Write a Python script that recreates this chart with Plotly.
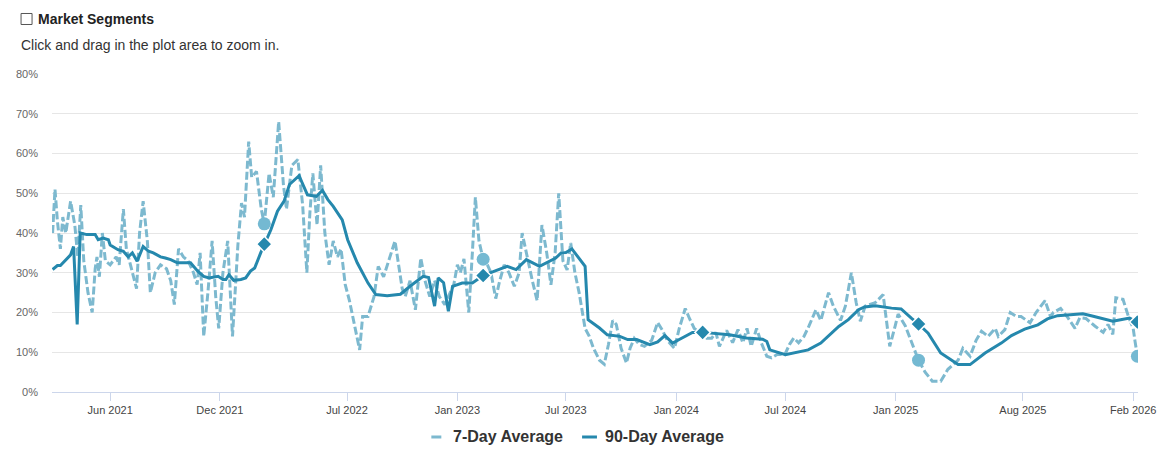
import plotly.graph_objects as go

# ---------------- data ----------------
d7_dates = [
 "2021-02-25","2021-03-01","2021-03-05","2021-03-10","2021-03-14","2021-03-19","2021-03-27","2021-04-03",
 "2021-04-08","2021-04-13","2021-04-18","2021-04-25","2021-05-02","2021-05-07","2021-05-10","2021-05-14",
 "2021-05-19","2021-05-24","2021-06-01","2021-06-11","2021-06-16","2021-06-23","2021-06-28","2021-07-08",
 "2021-07-15","2021-07-20","2021-07-26","2021-08-02","2021-08-07","2021-08-15","2021-08-24","2021-09-03",
 "2021-09-10","2021-09-16","2021-09-23","2021-10-01","2021-10-09","2021-10-18","2021-10-24","2021-10-29",
 "2021-11-04","2021-11-11","2021-11-18","2021-11-24","2021-11-29","2021-12-06","2021-12-14","2021-12-22",
 "2021-12-31","2022-01-06","2022-01-11","2022-01-18","2022-01-23","2022-01-31","2022-02-08","2022-02-13",
 "2022-02-21","2022-02-28","2022-03-09","2022-03-17","2022-03-22","2022-03-31","2022-04-10","2022-04-18",
 "2022-04-25","2022-04-30","2022-05-05","2022-05-12","2022-05-18","2022-05-25","2022-06-01","2022-06-08",
 "2022-06-15","2022-06-21","2022-06-28","2022-07-05","2022-07-12","2022-07-22","2022-07-27","2022-08-05",
 "2022-08-15","2022-08-22","2022-08-31","2022-09-09","2022-09-19","2022-10-01","2022-10-06","2022-10-14",
 "2022-10-23","2022-11-01","2022-11-08","2022-11-16","2022-11-24","2022-12-02","2022-12-11","2022-12-17",
 "2022-12-26","2023-01-01","2023-01-06","2023-01-12","2023-01-20","2023-01-26","2023-01-31","2023-02-06",
 "2023-02-13","2023-02-20","2023-02-26","2023-03-06","2023-03-12","2023-03-20","2023-03-28","2023-04-06",
 "2023-04-14","2023-04-19","2023-04-27","2023-05-06","2023-05-14","2023-05-22","2023-05-30","2023-06-06",
 "2023-06-13","2023-06-19","2023-06-26","2023-07-03","2023-07-09","2023-07-16","2023-07-23","2023-07-28",
 "2023-08-02","2023-08-09","2023-08-16","2023-08-26","2023-09-03","2023-09-10","2023-09-17","2023-09-23",
 "2023-10-01","2023-10-10","2023-10-16","2023-10-23","2023-10-31","2023-11-09","2023-11-21","2023-12-01",
 "2023-12-09","2023-12-17","2023-12-29","2024-01-06","2024-01-16","2024-01-23","2024-01-31","2024-02-09",
 "2024-02-14","2024-02-21","2024-02-29","2024-03-07","2024-03-13","2024-03-25","2024-04-04","2024-04-13",
 "2024-04-21","2024-04-28","2024-05-05","2024-05-14","2024-05-22","2024-05-31","2024-06-08","2024-06-18",
 "2024-06-30","2024-07-08","2024-07-15","2024-07-23","2024-08-01","2024-08-09","2024-08-21","2024-08-29",
 "2024-09-11","2024-09-19","2024-10-01","2024-10-09","2024-10-19","2024-10-27","2024-11-03","2024-11-11",
 "2024-11-28","2024-12-11","2024-12-22","2024-12-31","2025-01-05","2025-01-17","2025-01-30","2025-02-08",
 "2025-02-19","2025-03-03","2025-03-17","2025-03-29","2025-04-15","2025-04-23","2025-05-05","2025-05-15",
 "2025-05-24","2025-06-04","2025-06-16","2025-06-21","2025-07-02","2025-07-11","2025-07-21","2025-07-29",
 "2025-08-13","2025-08-23","2025-09-07","2025-09-16","2025-09-21","2025-10-03","2025-10-15","2025-10-27",
 "2025-11-04","2025-11-14","2025-11-29","2025-12-13","2025-12-21","2025-12-29","2026-01-03","2026-01-15",
 "2026-01-24","2026-02-01","2026-02-04","2026-02-08",
]
d7_values = [
 40,51,43,36,44,40,48,42,
 34,47,33,25,20,31,34,29,
 40,33,32,34,32,46,36,30,
 26,40,48,38,25,30,32,31,
 28,22,36,34,33,30,27,35,
 14,25,38,24,16,30,38,14,
 37,47.5,44,63,54,55.5,46,42.3,
 55,49,68,52,46,57,58.5,47,
 30,45,55,42,57,40,32,38,
 34,36,27,23,18,10.6,19,19,
 24,31.6,29,33,38,26,24,28,
 20.7,33.7,28,24,28,24,22,24,
 27,32,30,33.5,20,35,49,38,
 33.4,32,30,23.5,27.6,32,30,26.6,
 30,40,34,28,23,42,35,27,
 35,50,33,30.7,37.5,30,25,20,
 16,14,11,8,7,12,18,17,
 11,7.3,11,13.5,12,11.5,13,17.5,
 15.5,13,11,16,21,18.5,16,15,
 15,13.5,13.5,15,11.5,15.5,12.4,15.7,
 12.4,16,11.5,16,12.3,9,8.6,9.5,
 9.4,12,13.6,12.4,14,16.5,20.7,18,
 25,21.6,18,21.6,30,22.5,17.8,21.6,
 22.5,24.5,11.5,16.6,19.6,16.6,11.5,8,
 5,2.7,2.7,5.7,8,11,9,13,
 15.3,14,16,14,15.7,20,19,19,
 17.4,20,23,19,20,21,18.7,16,
 18.7,18.5,16.6,15,17,14.5,23.7,23.3,
 19,16,12.8,9,
]

d90_dates = [
 "2021-02-25","2021-03-05","2021-03-10","2021-03-22","2021-03-27","2021-04-01","2021-04-07","2021-04-12",
 "2021-04-23","2021-05-07","2021-05-12","2021-05-20","2021-05-29","2021-06-01","2021-06-14","2021-06-23",
 "2021-07-01","2021-07-08","2021-07-16","2021-07-26","2021-08-04","2021-08-12","2021-08-24","2021-09-01",
 "2021-09-10","2021-09-21","2021-10-13","2021-10-25","2021-11-04","2021-11-13","2021-11-28","2021-12-06",
 "2021-12-11","2021-12-16","2021-12-24","2022-01-05","2022-01-13","2022-01-21","2022-01-28","2022-02-07",
 "2022-02-13","2022-02-24","2022-03-07","2022-03-18","2022-03-27","2022-04-12","2022-04-26","2022-05-11",
 "2022-05-16","2022-05-21","2022-05-30","2022-06-08","2022-06-23","2022-07-02","2022-07-18","2022-07-27",
 "2022-08-05","2022-08-18","2022-09-06","2022-09-28","2022-10-14","2022-11-05","2022-11-14","2022-11-24",
 "2022-11-30","2022-12-09","2022-12-17","2022-12-24","2023-01-09","2023-01-26","2023-02-13","2023-03-04",
 "2023-03-25","2023-04-09","2023-04-26","2023-05-18","2023-06-03","2023-06-14","2023-06-23","2023-07-01",
 "2023-07-11","2023-07-23","2023-08-02","2023-08-07","2023-08-26","2023-09-08","2023-09-29","2023-10-12",
 "2023-10-27","2023-11-18","2023-12-01","2023-12-13","2023-12-26","2024-01-06","2024-01-28","2024-02-14",
 "2024-03-02","2024-03-30","2024-04-27","2024-05-24","2024-05-31","2024-06-05","2024-07-01","2024-07-23",
 "2024-08-08","2024-08-29","2024-09-28","2024-10-14","2024-10-31","2024-11-10","2024-11-28","2024-12-25",
 "2025-01-10","2025-01-27","2025-02-08","2025-02-24","2025-03-17","2025-04-15","2025-05-05","2025-05-30",
 "2025-06-26","2025-07-13","2025-08-04","2025-08-26","2025-09-11","2025-09-28","2025-10-20","2025-11-09",
 "2025-11-23","2025-12-09","2025-12-29","2026-01-11","2026-01-26","2026-02-08",
]
d90_values = [
 30.8,31.8,31.8,33.7,34.5,36.6,17,40,
 39.6,39.6,38.3,38.7,38.3,37,35.8,35.4,
 34,35,32.9,36.6,35.4,35,34,33.7,
 33.3,32.5,32.5,30.4,29.1,28.7,29.1,28.3,
 28.3,29.5,28.1,28.3,28.7,30.4,31.2,35,
 37.2,40.8,45.5,48,52.2,54.4,49.6,49.2,
 50,50.7,48.4,46.7,43.3,38.3,32.5,30,
 27.4,24.5,24.2,24.6,26.6,29.1,28.8,21.6,
 28.7,27.5,20.3,26.6,27.4,27.4,29.3,30.4,
 31.6,30.8,33.3,31.6,32.9,33.7,35,35.1,
 36,33.7,31.6,18.2,16.1,14.4,14,13.2,
 13.2,11.9,12.6,14.2,12.3,13.2,15,15,
 14.8,14.4,13.6,13.3,12.7,10.6,9.4,10,
 10.6,12.3,16.5,18.2,20.7,21.4,21.7,21.1,
 20.9,18.6,17.1,14.8,9.8,6.9,6.9,9.8,
 12.3,14.2,15.8,16.9,18.4,19.2,19.5,19.7,
 19.2,18.6,17.8,18.2,18.6,17.6,
]

# yearly highlighted points
mark_dates = ["2022-02-13", "2023-02-13", "2024-02-14", "2025-02-08", "2026-02-08"]
mark7_dates = ["2022-02-13", "2023-02-13", "2025-02-08", "2026-02-08"]
mark7_values = [42.3, 33.4, 8, 9]
mark90_values = [37.2, 29.3, 15, 17.1, 17.6]

tick_vals = ["2021-06-01", "2021-12-01", "2022-07-01", "2023-01-01", "2023-07-01",
             "2024-01-01", "2024-07-01", "2025-01-01", "2025-08-01", "2026-02-01"]
tick_text = ["Jun 2021", "Dec 2021", "Jul 2022", "Jan 2023", "Jul 2023",
             "Jan 2024", "Jul 2024", "Jan 2025", "Aug 2025", "Feb 2026"]
y_ticks = [0, 10, 20, 30, 40, 50, 60, 70, 80]
y_text = [f"{v}%" for v in y_ticks]
series_names = ["7-Day Average", "90-Day Average"]

C7 = "#7db9cf"
C90 = "#2588ad"
FONT = "Liberation Sans, Arial, sans-serif"

fig = go.Figure()
fig.add_trace(go.Scatter(
    x=d7_dates, y=d7_values, mode="lines", name=series_names[0], showlegend=False,
    line=dict(color=C7, width=3, dash="8px,3px"),
))
fig.add_trace(go.Scatter(
    x=d90_dates, y=d90_values, mode="lines", name=series_names[1], showlegend=False,
    line=dict(color=C90, width=3),
))
fig.add_trace(go.Scatter(
    x=mark7_dates, y=mark7_values, mode="markers", showlegend=False,
    marker=dict(symbol="circle", size=13, color="#74b9d2"),
))
fig.add_trace(go.Scatter(
    x=mark_dates, y=mark90_values, mode="markers", showlegend=False,
    marker=dict(symbol="diamond", size=12, color=C90, line=dict(color="white", width=1.5)),
))

fig.update_layout(
    width=1168, height=458,
    margin=dict(l=52, r=28, t=74, b=66),
    paper_bgcolor="white", plot_bgcolor="white",
    font=dict(family=FONT, color="#333333"),
    hovermode=False,
)
fig.update_xaxes(
    type="date", range=["2021-02-24", "2026-02-09"],
    tickvals=tick_vals, ticktext=tick_text,
    showgrid=False, showline=True, linecolor="#ccd6eb", linewidth=1,
    ticks="outside", ticklen=8, tickcolor="#ccd6eb",
    tickfont=dict(size=11, color="#444444"), zeroline=False,
    ticklabelstandoff=0,
)
fig.update_yaxes(
    range=[0, 80], tickvals=y_ticks, ticktext=y_text,
    showgrid=True, gridcolor="#e6e6e6", gridwidth=1,
    zeroline=False, showline=False,
    tickfont=dict(size=11, color="#666666"), ticklabelstandoff=13,
)

# header texts above the chart
fig.add_shape(type="rect", xref="paper", yref="paper",
              xsizemode="pixel", ysizemode="pixel",
              xanchor=-0.0285, yanchor=1.173,
              x0=0, x1=11, y0=-5.5, y1=5.5,
              line=dict(color="#555555", width=1), fillcolor="white")
fig.add_annotation(xref="paper", yref="paper", x=-0.0143, y=1.173, xanchor="left", yanchor="middle",
                   text="<b>Market Segments</b>", showarrow=False,
                   font=dict(size=14, color="#222222", family=FONT))
fig.add_annotation(xref="paper", yref="paper", x=-0.0303, y=1.091, xanchor="left", yanchor="middle",
                   text="Click and drag in the plot area to zoom in.", showarrow=False,
                   font=dict(size=14, color="#333333", family=FONT))

# legend drawn below the plot area
leg_y = -0.1415
fig.add_shape(type="line", xref="paper", yref="paper", x0=0.3493, x1=0.3585, y0=leg_y, y1=leg_y,
              line=dict(color=C7, width=3))
fig.add_shape(type="line", xref="paper", yref="paper", x0=0.4881, x1=0.5018, y0=leg_y, y1=leg_y,
              line=dict(color=C90, width=3))
fig.add_annotation(xref="paper", yref="paper", x=0.3676, y=leg_y, xanchor="left", yanchor="middle",
                   text="<b>" + series_names[0] + "</b>", showarrow=False,
                   font=dict(size=16, color="#333333", family=FONT))
fig.add_annotation(xref="paper", yref="paper", x=0.5074, y=leg_y, xanchor="left", yanchor="middle",
                   text="<b>" + series_names[1] + "</b>", showarrow=False,
                   font=dict(size=16, color="#333333", family=FONT))

fig.write_html("out.html", config={"displayModeBar": False},
               post_script="document.body.style.margin='0px';")
